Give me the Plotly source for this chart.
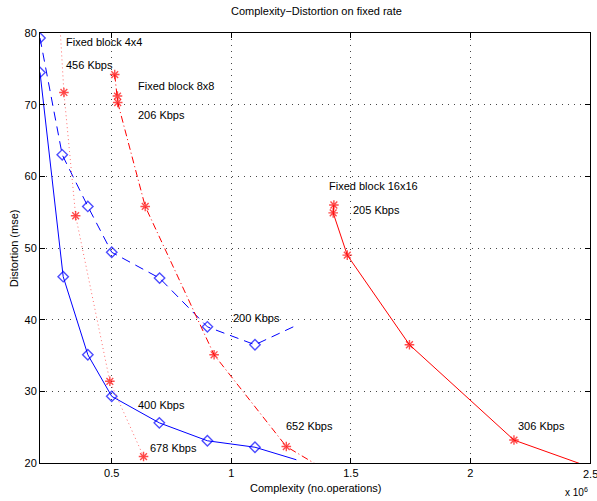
import plotly.graph_objects as go

# Complexity in units of 1e6 operations, distortion in mse
blue_solid_x = [0.2, 0.297, 0.4, 0.5, 0.699, 0.9, 1.099, 1.272]
blue_solid_y = [74.5, 46.0, 35.1, 29.3, 25.6, 23.1, 22.2, 20.45]

blue_dash_x = [0.2, 0.293, 0.4, 0.5, 0.7, 0.9, 1.099, 1.272]
blue_dash_y = [79.3, 63.0, 55.8, 49.4, 45.8, 39.0, 36.5, 39.2]

red_dot_x = [0.28, 0.3, 0.349, 0.492, 0.633]
red_dot_y = [83.0, 71.7, 54.5, 31.4, 20.9]

red_dashdot_x = [0.5125, 0.524, 0.525, 0.64, 0.928, 1.23, 1.40]
red_dashdot_y = [74.2, 71.2, 70.3, 55.8, 35.1, 22.3, 18.9]

red_solid_x = [1.429, 1.426, 1.485, 1.745, 2.182, 2.56]
red_solid_y = [56.0, 54.9, 49.0, 36.5, 23.2, 18.7]

labels_text = ["Fixed block 4x4", "456 Kbps", "Fixed block 8x8", "206 Kbps",
               "Fixed block 16x16", "205 Kbps", "200 Kbps", "400 Kbps",
               "678 Kbps", "652 Kbps", "306 Kbps"]
labels_x = [0.3, 0.3, 0.6, 0.6, 1.4, 1.5, 1.0, 0.6, 0.65, 1.22, 2.19]
labels_y = [78.7, 75.6, 72.6, 68.6, 58.7, 55.3, 40.3, 28.1, 22.1, 25.1, 25.1]

x_ticks = [0.5, 1, 1.5, 2, 2.5]
x_tick_text = ["0.5", "1", "1.5", "2", "2.5"]
y_ticks = [20, 30, 40, 50, 60, 70, 80]

BLUE = "rgb(0,0,255)"
RED = "rgb(255,0,0)"

fig = go.Figure()


def add_series(xs, ys, color, dash, symbol, last_marker=True, line_color=None):
    sizes = [8] * len(xs)
    if not last_marker:
        sizes[-1] = 0
    fig.add_trace(go.Scatter(
        x=xs, y=ys, mode="lines+markers",
        line=dict(color=line_color or color, width=1, dash=dash),
        marker=dict(symbol=symbol, size=sizes, color=color,
                    line=dict(color=color, width=1.4)),
        showlegend=False, cliponaxis=True,
    ))


add_series(blue_solid_x, blue_solid_y, BLUE, "solid", "diamond-open", last_marker=False)
add_series(blue_dash_x, blue_dash_y, BLUE, "9px,6px", "diamond-open", last_marker=False)
add_series(red_dot_x, red_dot_y, RED, "1px,3px", "asterisk-open", line_color="rgb(255,110,110)")
add_series(red_dashdot_x, red_dashdot_y, RED, "7px,3px,1px,3px", "asterisk-open")
add_series(red_solid_x, red_solid_y, RED, "solid", "asterisk-open")

for t, xx, yy in zip(labels_text, labels_x, labels_y):
    fig.add_annotation(x=xx, y=yy, text=t, showarrow=False, xanchor="left",
                       yanchor="middle", font=dict(size=11, color="black"))

# last x tick label (at the figure edge) drawn as an annotation so it shows partly
fig.add_annotation(x=x_ticks[-1], xref="x", yref="paper", y=-0.026,
                   text=x_tick_text[-1], showarrow=False, xanchor="center",
                   yanchor="middle", font=dict(size=11, color="black"))
shown_tick_text = x_tick_text[:-1] + [""]

# exponent label, axis titles, title as annotations
fig.add_annotation(xref="paper", yref="paper", x=0.95, y=-0.068,
                   text="x 10<sup>6</sup>", showarrow=False, xanchor="left",
                   yanchor="middle", font=dict(size=10, color="black"))
fig.add_annotation(xref="paper", yref="paper", x=0.5, y=-0.058,
                   text="Complexity (no.operations)", showarrow=False,
                   xanchor="center", yanchor="middle", font=dict(size=11, color="black"))
fig.add_annotation(xref="paper", yref="paper", x=-0.047, y=0.5,
                   text="Distortion (mse)", showarrow=False, textangle=-90,
                   xanchor="center", yanchor="middle", font=dict(size=11, color="black"))
fig.add_annotation(xref="paper", yref="paper", x=0.503, y=1.051,
                   text="Complexity\u2212Distortion on fixed rate", showarrow=False,
                   xanchor="center", yanchor="middle", font=dict(size=11, color="black"))

axis_common = dict(
    showline=True, linecolor="black", linewidth=1, mirror="ticks",
    ticks="inside", ticklen=5, tickcolor="black", automargin=False,
    showgrid=True, gridcolor="rgb(70,70,70)", griddash="1px,5px", gridwidth=1,
    zeroline=False, tickfont=dict(size=11, color="black"),
)

fig.update_layout(
    width=597, height=501,
    margin=dict(l=40, r=7, t=33, b=38),
    paper_bgcolor="white", plot_bgcolor="white",
    font=dict(family="Liberation Sans, Arial, sans-serif", size=11, color="black"),
    xaxis=dict(range=[0.2, 2.5], tickvals=x_ticks, ticktext=shown_tick_text, **axis_common),
    yaxis=dict(range=[20, 80], tickvals=y_ticks, **axis_common),
)

fig.write_html(
    "out.html",
    config={"displayModeBar": False},
    post_script="document.body.style.margin='0';document.body.style.overflow='hidden';",
)
